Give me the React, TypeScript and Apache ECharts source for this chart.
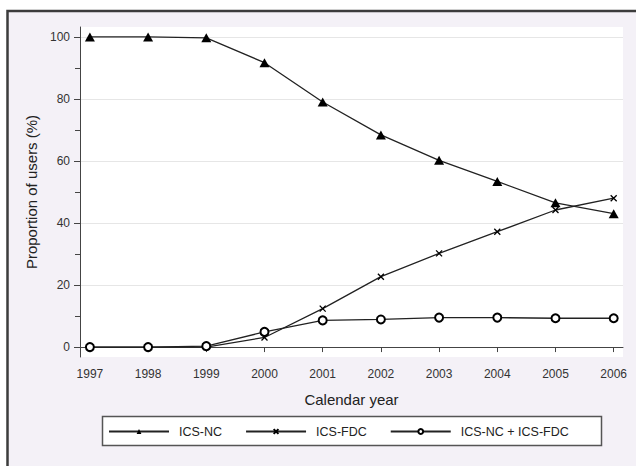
import React, { useEffect, useRef } from "react";
import * as echarts from "echarts";

const years = [1997, 1998, 1999, 2000, 2001, 2002, 2003, 2004, 2005, 2006];
const icsNc = [100, 100, 99.7, 91.7, 79.0, 68.4, 60.2, 53.4, 46.5, 43.0];
const icsFdc = [0, 0, 0, 3.1, 12.4, 22.7, 30.2, 37.2, 44.2, 48.0];
const icsBoth = [0, 0, 0.3, 4.9, 8.6, 8.9, 9.5, 9.5, 9.3, 9.3];
const yMajorTicks = [0, 20, 40, 60, 80, 100];
const yMinorTicks = [10, 30, 50, 70, 90];

const FONT = "Liberation Sans, Arial, sans-serif";
const CROSS = "path://M0,0L10,10M10,0L0,10";

export default function App() {
  const ref = useRef<HTMLDivElement>(null);
  useEffect(() => {
    const chart = echarts.init(ref.current!, null, { renderer: "svg" });
    const pair = (arr: number[]) => years.map((y, i) => [y, arr[i]]);
    const yBase = {
      type: "value",
      min: -3.2,
      max: 103.2,
      axisLine: { show: true, lineStyle: { color: "#444", width: 1 } },
    };
    chart.setOption({
      animation: false,
      backgroundColor: "#ffffff",
      textStyle: { fontFamily: FONT },
      graphic: [
        {
          type: "rect",
          z: -10,
          silent: true,
          shape: { x: 7.5, y: 11, width: 700, height: 600 },
          style: { fill: "#f4f1f7", stroke: "#3c3c3c", lineWidth: 2.5 },
        },
        {
          type: "rect",
          z: -5,
          silent: true,
          shape: { x: 102.5, y: 416.5, width: 499, height: 29 },
          style: { fill: "#ffffff", stroke: "#555", lineWidth: 1.5 },
        },
      ],
      grid: {
        left: 80,
        right: 13,
        top: 27,
        bottom: 109,
        show: true,
        backgroundColor: "#ffffff",
        borderWidth: 0,
      },
      legend: {
        left: 102,
        top: 417,
        padding: [8, 6, 8, 6],
        itemWidth: 60,
        itemHeight: 6,
        itemGap: 23,
        textStyle: { fontFamily: FONT, fontSize: 12.5, color: "#222", padding: [0, 0, 0, 5] },
        data: ["ICS-NC", "ICS-FDC", "ICS-NC + ICS-FDC"],
      },
      xAxis: {
        type: "value",
        min: 1996.83,
        max: 2006.16,
        name: "Calendar year",
        nameLocation: "middle",
        nameGap: 35,
        nameTextStyle: { fontFamily: FONT, fontSize: 15, color: "#222" },
        axisLine: { show: true, lineStyle: { color: "#444", width: 1 } },
        axisTick: { show: true, length: 5, customValues: years, lineStyle: { color: "#444" } },
        axisLabel: {
          customValues: years,
          formatter: (v: number) => String(v),
          fontFamily: FONT,
          fontSize: 12,
          color: "#333",
          margin: 11,
        },
        splitLine: { show: false },
      },
      yAxis: [
        {
          ...yBase,
          name: "Proportion of users (%)",
          nameLocation: "middle",
          nameGap: 38,
          nameTextStyle: { fontFamily: FONT, fontSize: 15, color: "#222" },
          axisTick: { show: true, length: 6, customValues: yMajorTicks, lineStyle: { color: "#444" } },
          axisLabel: {
            customValues: yMajorTicks,
            fontFamily: FONT,
            fontSize: 12,
            color: "#333",
            margin: 10,
          },
          splitLine: { show: true, lineStyle: { color: "#e6e6e6", width: 1 } },
        },
        {
          ...yBase,
          position: "left",
          axisLine: { show: false },
          axisTick: { show: true, length: 5, customValues: yMinorTicks, lineStyle: { color: "#444" } },
          axisLabel: { show: false },
          splitLine: { show: false },
        },
      ],
      series: [
        {
          name: "ICS-NC",
          type: "line",
          data: pair(icsNc),
          symbol: "triangle",
          symbolSize: [10, 9],
          lineStyle: { color: "#222", width: 1.3 },
          itemStyle: { color: "#000" },
        },
        {
          name: "ICS-FDC",
          type: "line",
          data: pair(icsFdc),
          symbol: CROSS,
          symbolSize: 6,
          lineStyle: { color: "#222", width: 1.3 },
          itemStyle: { color: "#000", borderColor: "#000", borderWidth: 1.3 },
        },
        {
          name: "ICS-NC + ICS-FDC",
          type: "line",
          data: pair(icsBoth),
          symbol: "emptyCircle",
          symbolSize: 8,
          lineStyle: { color: "#222", width: 1.3 },
          itemStyle: { color: "#000", borderColor: "#000", borderWidth: 1.3 },
        },
      ],
    });
    return () => chart.dispose();
  }, []);
  return (
    <div
      ref={ref}
      style={{ position: "fixed", left: 0, top: 0, width: 636, height: 466 }}
    />
  );
}
